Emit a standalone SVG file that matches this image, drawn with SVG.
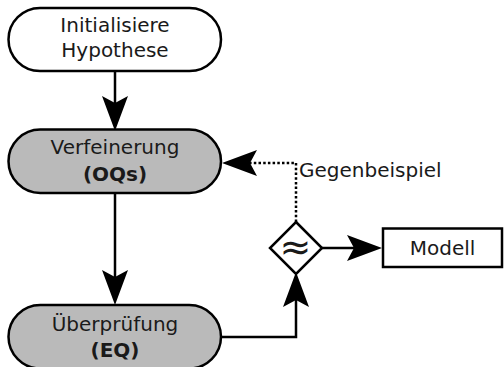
<svg xmlns="http://www.w3.org/2000/svg" width="504" height="367" viewBox="0 0 504 367">
<style>
.node{stroke:#000;stroke-width:2.5}
.start{fill:#fff}
.proc{fill:#bababa}
.t{font-family:"DejaVu Sans",sans-serif;font-size:20px;fill:#1a1a1a;text-anchor:middle}
.b{font-weight:bold}
.c{fill:none;stroke:#000;stroke-width:2.5}
.dot{stroke-dasharray:2.5 2.2}
</style>
<defs>
<marker id="ah" markerUnits="userSpaceOnUse" markerWidth="50" markerHeight="40" viewBox="-45 -20 50 40" refX="-20" refY="0" orient="auto" overflow="visible">
<path d="M0,0 L-35,-13 L-28,0 L-35,13 Z" fill="#000"/>
</marker>
</defs>
<g id="connectors">
<path class="c" d="M115,71 V111" marker-end="url(#ah)"/>
<path class="c" d="M115,193 V285" marker-end="url(#ah)"/>
<path class="c" d="M221,337 H296 V292" marker-end="url(#ah)"/>
<path class="c" d="M321,248 H362" marker-end="url(#ah)"/>
<path class="c dot" d="M296,222 V163 H242" marker-end="url(#ah)"/>
<text class="t" x="299" y="177" style="text-anchor:start">Gegenbeispiel</text>
</g>
<g id="init">
<rect class="node start" x="8.5" y="8" width="212.5" height="63" rx="31.5"/>
<text class="t" x="115" y="32">Initialisiere</text>
<text class="t" x="115" y="57">Hypothese</text>
</g>
<g id="oqs">
<rect class="node proc" x="8.5" y="129.5" width="212.5" height="63.5" rx="31.75"/>
<text class="t" x="115" y="154">Verfeinerung</text>
<text class="t b" x="115" y="181">(OQs)</text>
</g>
<g id="eq">
<rect class="node proc" x="8.5" y="305" width="212.5" height="63.5" rx="31.75"/>
<text class="t" x="115" y="330.5">Überprüfung</text>
<text class="t b" x="115" y="356.5">(EQ)</text>
</g>
<g id="check">
<polygon class="node start" points="296,222 322,248 296,274 270,248"/>
<text class="t" x="295.5" y="260" style="font-size:38px">≈</text>
</g>
<g id="modell">
<rect class="node start" x="383" y="228.5" width="119" height="38.5"/>
<text class="t" x="442.5" y="255">Modell</text>
</g>
</svg>
